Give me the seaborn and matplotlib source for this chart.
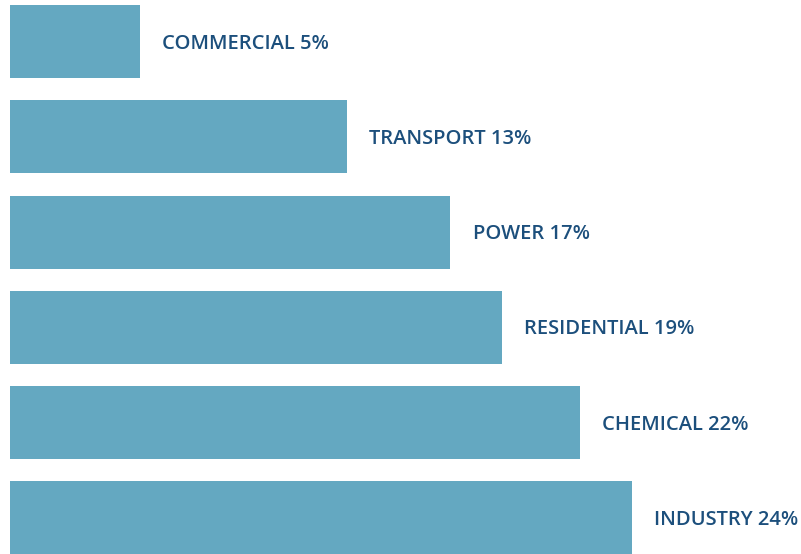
import matplotlib
matplotlib.use("Agg")
import matplotlib.pyplot as plt
import seaborn as sns
import pandas as pd

categories = ["COMMERCIAL", "TRANSPORT", "POWER", "RESIDENTIAL", "CHEMICAL", "INDUSTRY"]
shares = [5, 13, 17, 19, 22, 24]

bar_color = "#64a8c1"
text_color = "#1c4f7c"

df = pd.DataFrame({"sector": categories, "share": shares})

sns.set_theme(style="white")
plt.rcParams["font.family"] = ["Open Sans", "DejaVu Sans"]

fig = plt.figure(figsize=(8.01, 5.54), dpi=100)
ax = fig.add_axes([0, 0, 1, 1])
sns.barplot(data=df, x="share", y="sector", order=categories, orient="h",
            color=bar_color, saturation=1, width=0.766, linewidth=0, ax=ax)

for i, (c, v) in enumerate(zip(categories, shares)):
    ax.annotate(f"{c} {v}%", xy=(v, i), xytext=(16, -1.5), textcoords="offset points",
                ha="left", va="center", fontsize=14.5, fontweight="semibold", color=text_color)

ax.set_xlim(-0.386, 30.54)
ax.set_ylim(5.378, -0.435)
ax.axis("off")
fig.savefig("out.png", dpi=100)
